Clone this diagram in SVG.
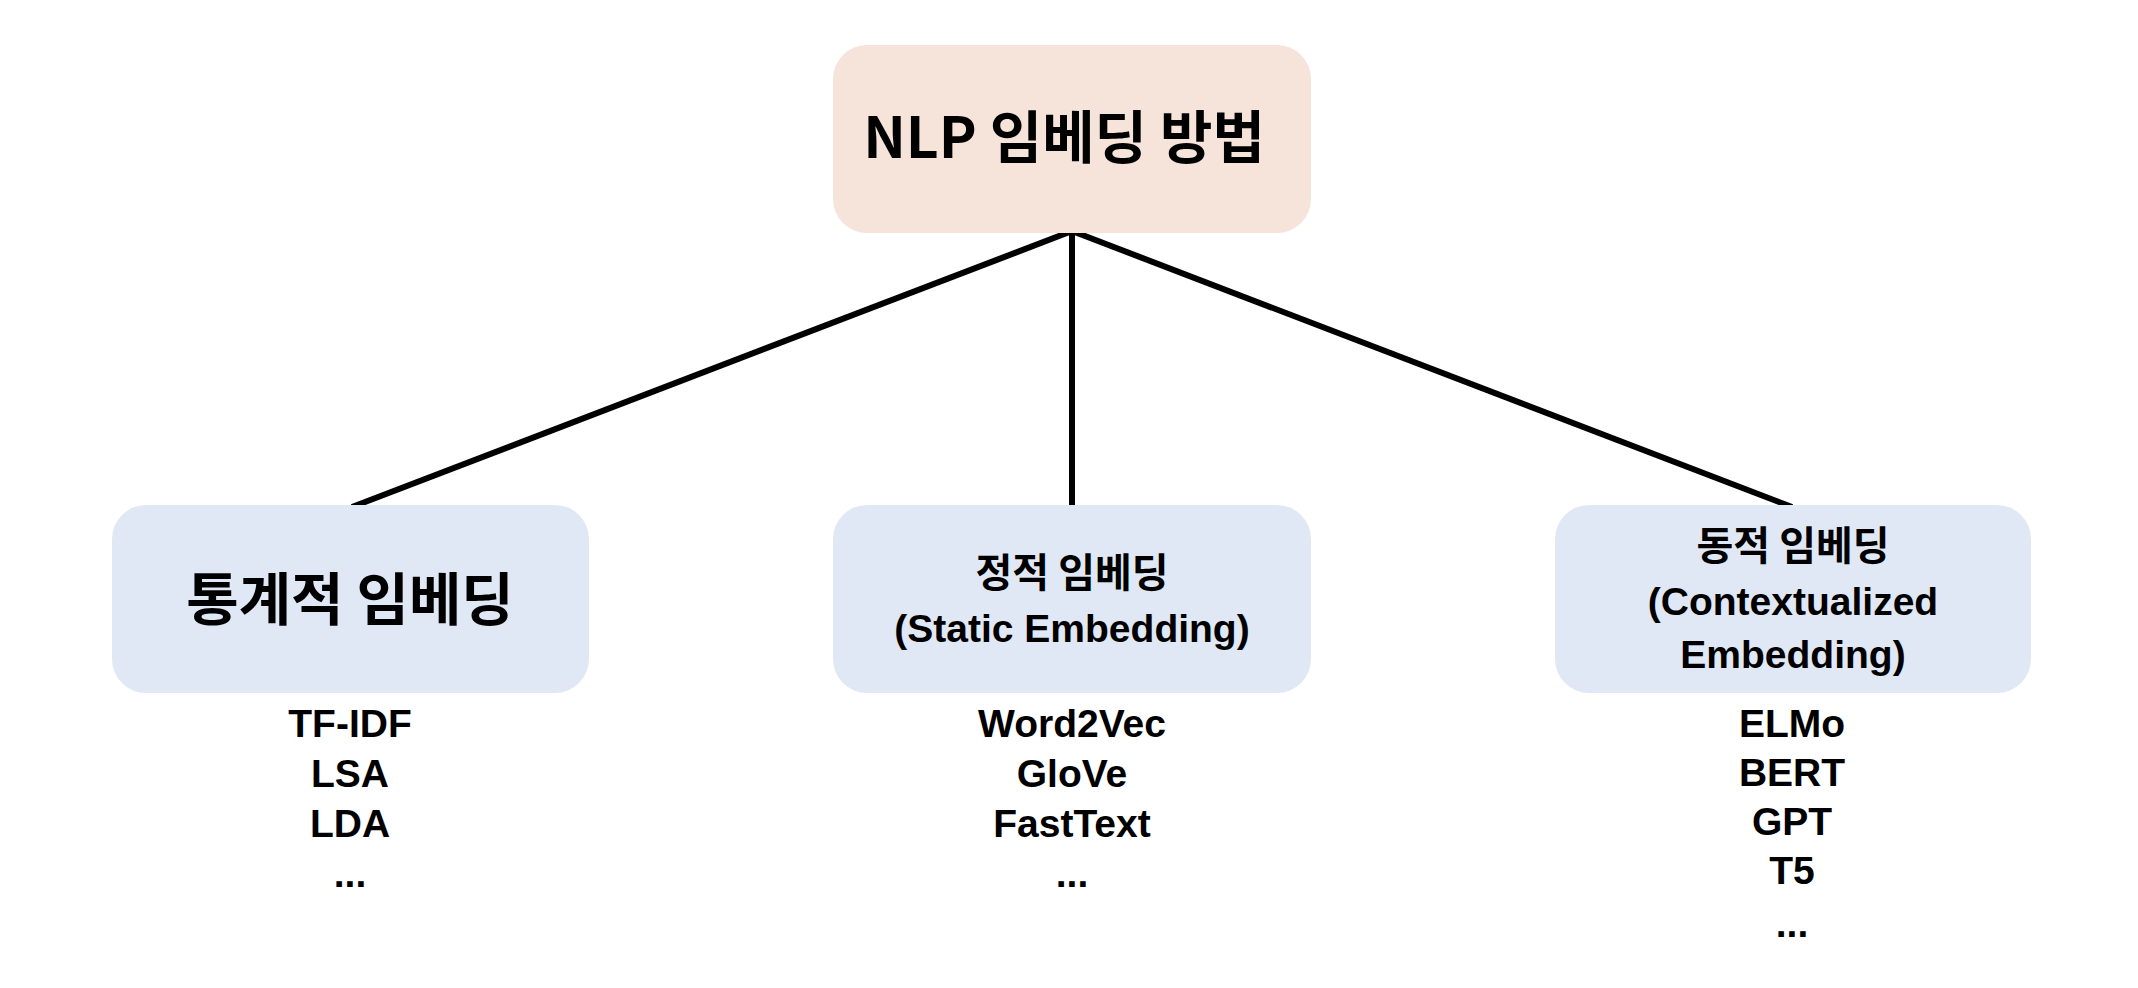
<svg xmlns="http://www.w3.org/2000/svg" width="2138" height="988" viewBox="0 0 2138 988">
<style>
.t{font-family:"Noto Sans CJK KR","Liberation Sans",sans-serif;font-weight:bold;fill:#000;text-anchor:middle}
.l{font-family:"Liberation Sans","Noto Sans CJK KR",sans-serif;font-weight:bold;fill:#000;text-anchor:middle;font-size:39px}
.top{fill:#F6E4DA}
.cat{fill:#DFE8F4}
.conn{stroke:#000;stroke-width:6;fill:none;stroke-linecap:butt}
</style>
<rect width="2138" height="988" fill="#fff"/>
<g id="connectors">
<line class="conn" x1="1072" y1="231" x2="352" y2="507"/>
<line class="conn" x1="1072" y1="231" x2="1072" y2="506"/>
<line class="conn" x1="1072" y1="231" x2="1792" y2="507"/>
</g>
<g id="node-root">
<rect class="top" x="833" y="45" width="478" height="188" rx="34"/>
<text class="t" x="1064" y="158" font-size="57">NLP 임베딩 방법</text>
</g>
<g id="node-statistical">
<rect class="cat" x="112" y="505" width="477" height="188" rx="34"/>
<text class="t" x="350" y="620" font-size="57">통계적 임베딩</text>
<text class="l" x="350" y="737">TF-IDF</text>
<text class="l" x="350" y="787">LSA</text>
<text class="l" x="350" y="837">LDA</text>
<text class="l" x="350" y="887">...</text>
</g>
<g id="node-static">
<rect class="cat" x="833" y="505" width="478" height="188" rx="34"/>
<text class="t" x="1072" y="587" font-size="40">정적 임베딩</text>
<text class="l" x="1072" y="642">(Static Embedding)</text>
<text class="l" x="1072" y="737">Word2Vec</text>
<text class="l" x="1072" y="787">GloVe</text>
<text class="l" x="1072" y="837">FastText</text>
<text class="l" x="1072" y="887">...</text>
</g>
<g id="node-contextual">
<rect class="cat" x="1555" y="505" width="476" height="188" rx="34"/>
<text class="t" x="1793" y="560" font-size="40">동적 임베딩</text>
<text class="l" x="1793" y="615">(Contextualized</text>
<text class="l" x="1793" y="668">Embedding)</text>
<text class="l" x="1792" y="737">ELMo</text>
<text class="l" x="1792" y="786">BERT</text>
<text class="l" x="1792" y="835">GPT</text>
<text class="l" x="1792" y="884">T5</text>
<text class="l" x="1792" y="937">...</text>
</g>
</svg>
